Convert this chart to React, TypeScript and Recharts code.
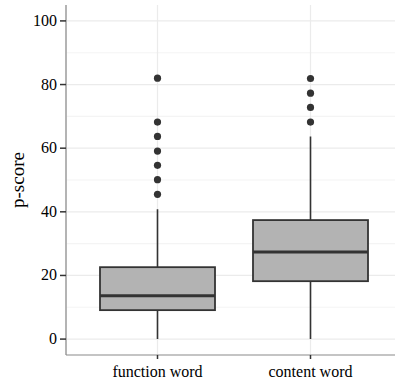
import { ComposedChart, Bar, Scatter, XAxis, YAxis, CartesianGrid } from "recharts"

const categories = ["function word", "content word"]
const whiskerLow = [0, 0]
const q1 = [9.1, 18.2]
const median = [13.6, 27.4]
const q3 = [22.6, 37.4]
const whiskerHigh = [40.8, 63.7]

const functionOutliers = [45.5, 50.1, 54.6, 59.1, 63.7, 68.2, 82.0]
const contentOutliers = [68.2, 72.8, 77.3, 81.9]

const yTicks = [0, 20, 40, 60, 80, 100]
const minorTicks = [10, 30, 50, 70, 90]

const boxData = categories.map((name, i) => ({
  name,
  lo: whiskerLow[i],
  q1: q1[i],
  med: median[i],
  q3: q3[i],
  hi: whiskerHigh[i],
  box: [q1[i], q3[i]],
}))

const outlierData = [
  ...functionOutliers.map((value) => ({ name: categories[0], value })),
  ...contentOutliers.map((value) => ({ name: categories[1], value })),
]

const FONT = "Liberation Serif"
const DARK = "#333333"

function BoxShape(props: any) {
  const { x, y, width, height, payload } = props
  const ppu = height / (payload.q3 - payload.q1)
  const toY = (v: number) => y + (payload.q3 - v) * ppu
  const cx = x + width / 2
  return (
    <g>
      <line x1={cx} x2={cx} y1={toY(payload.hi)} y2={toY(payload.q3)} stroke={DARK} strokeWidth={1.6} />
      <line x1={cx} x2={cx} y1={toY(payload.q1)} y2={toY(payload.lo)} stroke={DARK} strokeWidth={1.6} />
      <rect x={x} y={y} width={width} height={height} fill="#b3b3b3" stroke={DARK} strokeWidth={1.8} />
      <line x1={x} x2={x + width} y1={toY(payload.med)} y2={toY(payload.med)} stroke={DARK} strokeWidth={3} />
    </g>
  )
}

function YLabel(props: any) {
  const vb = props.viewBox
  const cx = vb.x + 24
  const cy = vb.y + vb.height / 2
  return (
    <text x={cx} y={cy} transform={`rotate(-90 ${cx} ${cy})`} textAnchor="middle" style={{ fontFamily: FONT, fontSize: 19 }} fill="#000">
      p-score
    </text>
  )
}

function XTick(props: any) {
  const { x, y, payload } = props
  return (
    <text x={x} y={y + 12} textAnchor="middle" style={{ fontFamily: FONT, fontSize: 16 }} fill="#000">
      {payload.value}
    </text>
  )
}

function YTick(props: any) {
  const { x, y, payload } = props
  return (
    <text x={x} y={y + 5} textAnchor="end" style={{ fontFamily: FONT, fontSize: 16 }} fill="#000">
      {payload.value}
    </text>
  )
}

export default function App() {
  return (
    <div style={{ position: "absolute", left: 0, top: 0, width: 395, height: 381, overflow: "hidden", background: "#fff" }}>
      <ComposedChart width={403} height={381} data={boxData} margin={{ top: 5, right: 0, bottom: 0, left: 0 }} barSize={115}>
        <CartesianGrid horizontalValues={minorTicks} vertical={false} stroke="#f4f4f4" strokeWidth={1.2} />
        <CartesianGrid horizontalValues={yTicks} stroke="#ebebeb" strokeWidth={1.2} />
        <CartesianGrid horizontalValues={[105]} vertical={false} stroke="#8a8a8a" strokeWidth={1.5} />
        <XAxis
          dataKey="name"
          type="category"
          allowDuplicatedCategory={false}
          padding={{ left: 15, right: 16 }}
          height={26}
          tickSize={4}
          tickMargin={6}
          axisLine={{ stroke: "#8a8a8a", strokeWidth: 1.2 }}
          tickLine={{ stroke: DARK, strokeWidth: 1.5 }}
          tick={XTick}
        />
        <YAxis
          type="number"
          domain={[-5, 105]}
          ticks={yTicks}
          allowDataOverflow
          width={66}
          tickSize={6}
          tickMargin={3}
          axisLine={{ stroke: "#8a8a8a", strokeWidth: 1.2 }}
          tickLine={{ stroke: DARK, strokeWidth: 1.5 }}
          tick={YTick}
          label={{ content: YLabel }}
        />
        <Bar dataKey="box" shape={BoxShape} isAnimationActive={false} />
        <Scatter
          data={outlierData}
          dataKey="value"
          isAnimationActive={false}
          shape={(p: any) => <circle cx={p.cx} cy={p.cy} r={3.6} fill={DARK} />}
        />
      </ComposedChart>
    </div>
  )
}
